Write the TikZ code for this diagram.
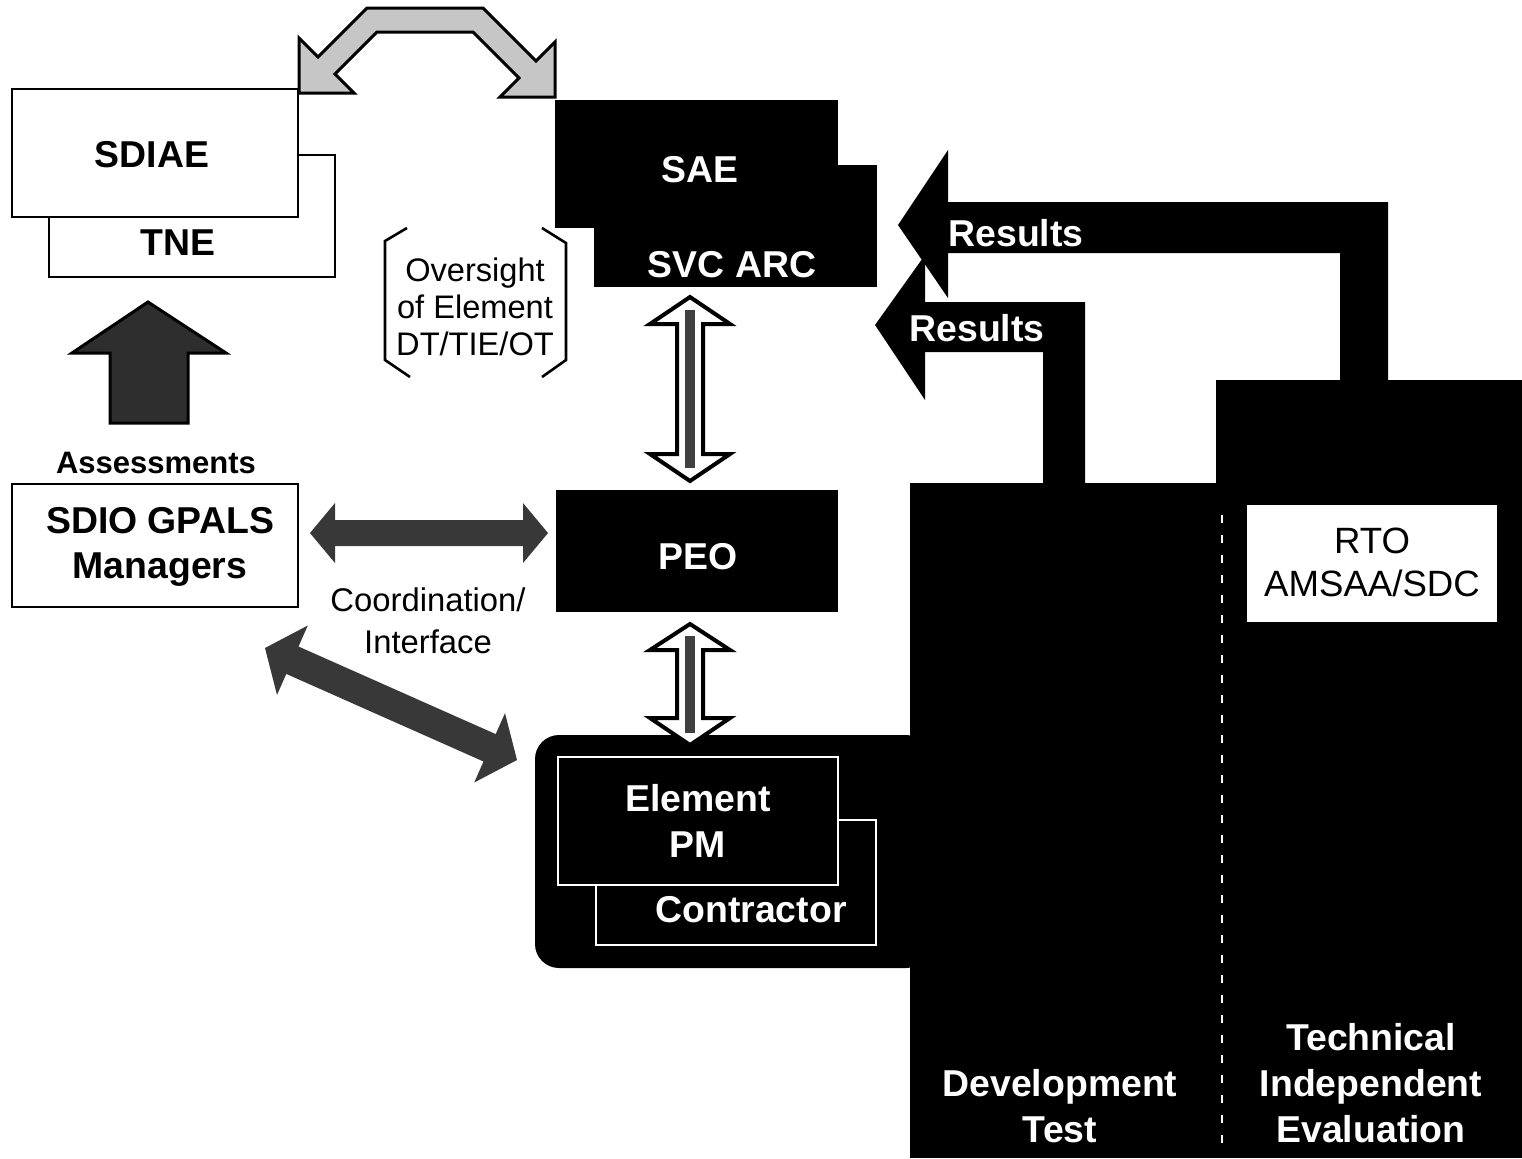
\documentclass[tikz,border=0pt]{standalone}
\usepackage{fontspec}
\setmainfont{Liberation Sans}
\begin{document}
\begin{tikzpicture}[x=0.5pt,y=-0.5pt,
  box/.style={draw=black,line width=1.2pt,fill=white,inner sep=0pt,outer sep=0pt},
  blk/.style={fill=black,inner sep=0pt,outer sep=0pt},
  wbox/.style={draw=white,line width=1.2pt,fill=black,inner sep=0pt,outer sep=0pt},
  lblb/.style={font=\fontsize{18.7}{23}\selectfont\bfseries,align=center,inner sep=0pt},
  lblw/.style={lblb,text=white},
  lblr/.style={font=\fontsize{16.3}{18.5}\selectfont,align=center,inner sep=0pt},
  hollow/.style={draw=black,line width=2pt,fill=white,line join=miter},
  stripe/.style={black!75,line width=5pt},
  hatcharrow/.style={fill=black!78},
  bracketline/.style={line width=1.3pt,line join=miter},
]
\useasboundingbox (0,0) rectangle (1522,1158);
\fill[white] (0,0) rectangle (1522,1158);

% ---- SDIAE / TNE
\node[box, minimum width=143pt, minimum height=61pt] (tne) at (192,216) {};
\node[box, minimum width=143pt, minimum height=64pt] (sdiae) at (155,153) {};
\node[lblb] (tsdiae) at (152,155) {SDIAE};
\node[lblb] (ttne) at (178,243) {TNE};

% ---- top bent double arrow
\draw[line width=1.5pt, fill=gray!45, line join=miter]
  (299,93) -- (354,93) -- (335,74) -- (377,32) -- (473,32) -- (519,78) -- (500,97)
  -- (555,97) -- (555,42) -- (536,61) -- (483,8) -- (367,8) -- (318,57) -- (299,38) -- cycle;

% ---- SAE / SVC ARC
\node[blk, minimum width=141.5pt, minimum height=64pt] (sae) at (696.5,164) {};
\node[blk, minimum width=141.5pt, minimum height=61pt] (svc) at (735.5,226) {};
\node[lblw] (tsae) at (700,170) {SAE};
\node[lblw] (tsvc) at (732,265) {SVC ARC};

% ---- Results arrows
\fill (875,325) -- (925,255) -- (925,302) -- (1085,302) -- (1085,487) -- (1043,487)
  -- (1043,352) -- (925,352) -- (925,400) -- cycle;
\fill (898,225) -- (948,150) -- (948,202) -- (1388,202) -- (1388,382) -- (1340,382)
  -- (1340,253) -- (948,253) -- (948,298) -- cycle;
\node[lblw] (tres1) at (1016,233) {Results};
\node[lblw] (tres2) at (977,328) {Results};

% ---- Development Test / TIE columns and element panel
\node[blk, minimum width=156pt, minimum height=337.5pt] (dt) at (1066,820.5) {};
\node[blk, minimum width=153pt, minimum height=389pt] (tie) at (1369,769) {};
\node[blk, rounded corners=12pt, minimum width=197.5pt, minimum height=116.5pt] (panel) at (732.5,851.5) {};
\draw[white, line width=1pt, dash pattern=on 4pt off 6pt] (1222,515) -- (1222,1150);

\node[fill=white, inner sep=0pt, minimum width=125pt, minimum height=58.5pt] (rto) at (1372,563.5) {};
\node[font=\fontsize{18.3}{21.5}\selectfont, align=center, inner sep=0pt] (trto) at (1372,562) {RTO\\AMSAA/SDC};

\node[lblw] (tdt) at (1060,1106) {Development\\Test};
\node[lblw] (ttie) at (1371,1083) {Technical\\Independent\\Evaluation};

% ---- Element PM / Contractor
\node[wbox, minimum width=140pt, minimum height=62.5pt] (contr) at (736,882.5) {};
\node[wbox, minimum width=140pt, minimum height=64pt] (epm) at (698,821) {};
\node[lblw] (tepm) at (698,821) {Element\\PM};
\node[lblw] (tcontr) at (751,910) {Contractor};

% ---- PEO
\node[blk, minimum width=141pt, minimum height=61pt] (peo) at (697,551) {};
\node[lblw] (tpeo) at (698,557) {PEO};

% ---- vertical double arrows
\draw[hollow] (690,297) -- (730,324) -- (703,324) -- (703,454) -- (730,454) -- (690,481)
  -- (650,454) -- (677,454) -- (677,324) -- (650,324) -- cycle;
\draw[stripe] (690,310) -- (690,468);
\draw[hollow] (690,624) -- (730,650) -- (703,650) -- (703,718) -- (730,718) -- (690,745)
  -- (650,718) -- (677,718) -- (677,650) -- (650,650) -- cycle;
\draw[stripe] (690,636) -- (690,733);

% ---- Oversight bracket
\draw[bracketline] (407,228) -- (385,241) -- (385,360) -- (410,377);
\draw[bracketline] (542,228) -- (566,243) -- (566,360) -- (542,377);
\node[lblr] (tover) at (475,307) {Oversight\\of Element\\DT/TIE/OT};

% ---- Assessments up arrow
\draw[line width=1.5pt, fill=black!82, line join=miter]
  (148,302) -- (226,353) -- (188,353) -- (188,423) -- (110,423) -- (110,353) -- (72,353) -- cycle;
\node[font=\fontsize{15.5}{18}\selectfont\bfseries, inner sep=0pt] (tass) at (156,463) {Assessments};

% ---- SDIO GPALS Managers
\node[box, minimum width=143pt, minimum height=61.5pt] (sdio) at (155,545.5) {};
\node[lblb, font=\fontsize{18.7}{22.5}\selectfont\bfseries] (tsdio) at (160,547) {SDIO GPALS\\Managers};

% ---- coordination arrows
\fill[hatcharrow] (310,533) -- (335,503) -- (335,520) -- (523,520) -- (523,503) -- (548,533)
  -- (523,563) -- (523,546) -- (335,546) -- (335,563) -- cycle;
\fill[hatcharrow] (265,648) -- (307.8,625.5) -- (298.5,646.5) -- (495.7,734.1) -- (505.0,713.1)
  -- (517,760) -- (474.2,782.5) -- (483.5,761.5) -- (286.3,673.9) -- (277.0,694.9) -- cycle;
\node[font=\fontsize{16.4}{21}\selectfont, align=center, inner sep=0pt] (tcoord) at (428,621) {Coordination/\\Interface};

\end{tikzpicture}
\end{document}
